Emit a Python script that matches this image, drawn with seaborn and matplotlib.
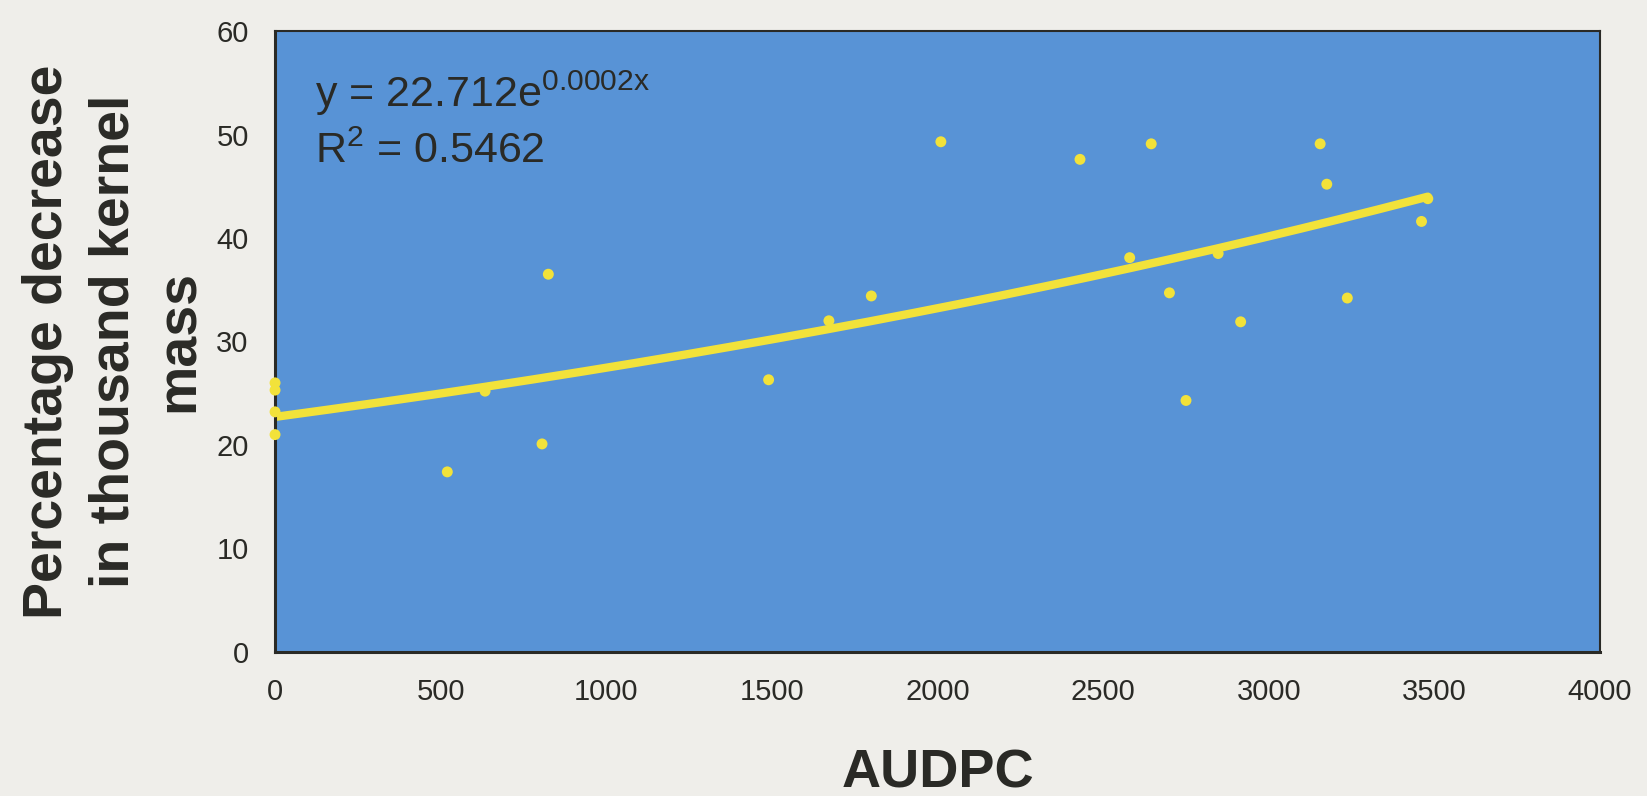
import numpy as np
import pandas as pd
import matplotlib
matplotlib.use("Agg")
import matplotlib.pyplot as plt
import seaborn as sns

# data
audpc = [0, 0, 0, 0, 520, 634, 806, 825, 1490, 1672, 1800, 2010, 2430, 2580,
         2645, 2700, 2750, 2847, 2915, 3155, 3175, 3237, 3461, 3480]
tkm_decrease = [26.0, 25.3, 23.2, 21.0, 17.4, 25.2, 20.1, 36.5, 26.3, 32.0, 34.4,
                49.3, 47.6, 38.1, 49.1, 34.7, 24.3, 38.5, 31.9, 49.1, 45.2, 34.2,
                41.6, 43.8]

# exponential trend as given on the chart (exponent shown rounded to 0.0002)
trend_a = 22.712
trend_b = 0.00019
eq_text = r"y = 22.712e$^{\mathregular{0.0002x}}$"
r2_text = r"R$^{\mathregular{2}}$ = 0.5462"

x_ticks = [0, 500, 1000, 1500, 2000, 2500, 3000, 3500, 4000]
y_ticks = [0, 10, 20, 30, 40, 50, 60]

sns.set_style("white")
plt.rcParams["font.family"] = ["Liberation Sans", "DejaVu Sans"]

paper = "#efeeea"
blue = "#5893d6"
yellow = "#f2e23a"
ink = "#2a2a26"

df = pd.DataFrame({"AUDPC": audpc, "Decrease": tkm_decrease})
grid = np.linspace(0, max(audpc), 300)
trend = pd.DataFrame({"AUDPC": grid, "Decrease": trend_a * np.exp(trend_b * grid)})

fig = plt.figure(figsize=(16.47, 7.96), dpi=100, facecolor=paper)
ax = fig.add_axes([0.167, 0.181, 0.8045, 0.780])
ax.set_facecolor(blue)

sns.lineplot(data=trend, x="AUDPC", y="Decrease", color=yellow, linewidth=6,
             solid_capstyle="round", ax=ax)
sns.scatterplot(data=df, x="AUDPC", y="Decrease", color=yellow, s=62,
                edgecolor="none", clip_on=False, zorder=5, ax=ax)

ax.set_xlim(0, 4000)
ax.set_ylim(0, 60)
ax.set_xticks(x_ticks)
ax.set_yticks(y_ticks)
ax.tick_params(axis="both", direction="out", length=8, width=1.5, color=ink,
               labelsize=21, labelcolor=ink)
ax.tick_params(axis="x", pad=11)
ax.tick_params(axis="y", pad=11)

for side in ["left", "bottom"]:
    ax.spines[side].set_color(ink)
    ax.spines[side].set_linewidth(2.2)
for side in ["top", "right"]:
    ax.spines[side].set_visible(True)
    ax.spines[side].set_color(ink)
    ax.spines[side].set_linewidth(1.5)

ax.set_xlabel("AUDPC", fontsize=39, fontweight="bold", color=ink, va="baseline")
ax.xaxis.set_label_coords(0.5, -0.219)
ax.set_ylabel("Percentage decrease\nin thousand kernel\nmass", fontsize=40,
              fontweight="bold", color=ink, va="center", linespacing=1.34,
              multialignment="center")
ax.yaxis.set_label_coords(-0.1215, 0.5)

ax.text(0.030, 0.8776, eq_text, transform=ax.transAxes, fontsize=31, color=ink,
        va="baseline")
ax.text(0.030, 0.7874, r2_text, transform=ax.transAxes, fontsize=31, color=ink,
        va="baseline")

fig.savefig("out.png", dpi=100, facecolor=paper)
